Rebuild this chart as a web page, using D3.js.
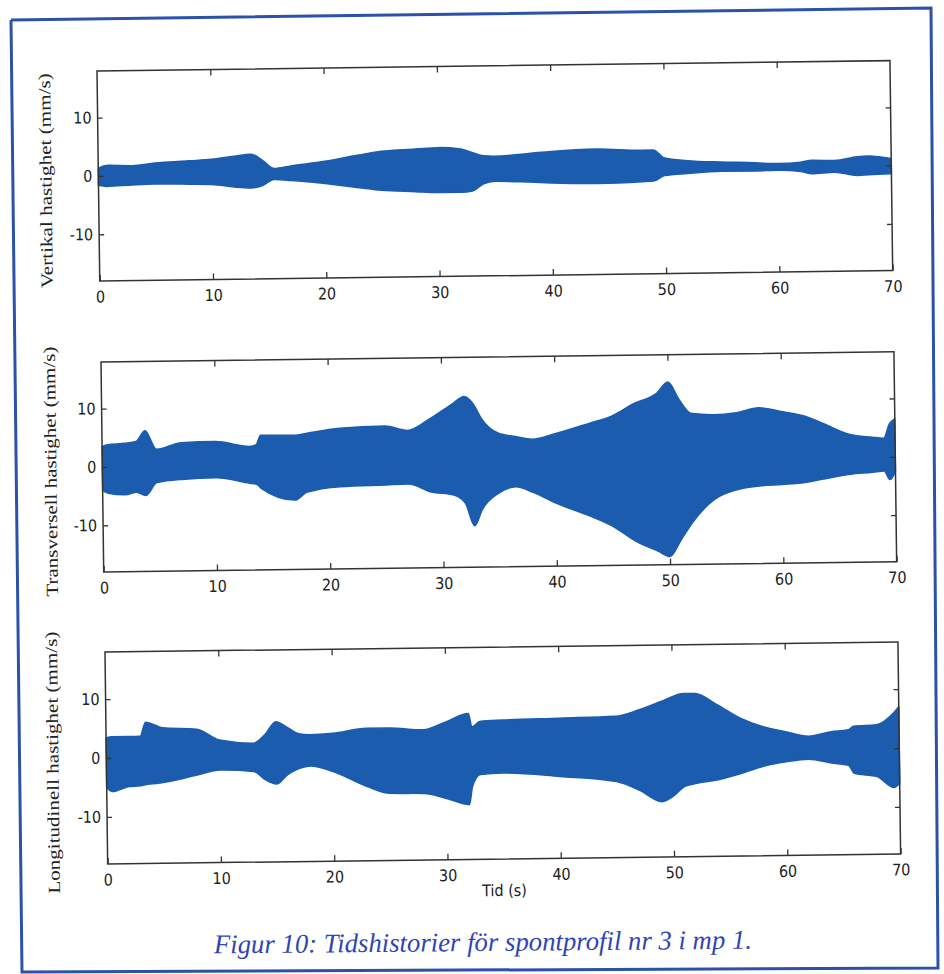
<!DOCTYPE html>
<html>
<head>
<meta charset="utf-8">
<script src="https://cdn.jsdelivr.net/npm/d3@7"></script>
<style>
  body { margin: 0; background: #fff; }
</style>
</head>
<body>
<script>
// envelope of each velocity record (mm/s)
const tVert = [0, 0.7, 3, 5, 8, 10, 12, 13.5, 14.5, 15.5, 17, 20, 23, 25, 28, 30, 32, 33, 34, 35, 38, 40, 44, 48, 49, 50, 52, 55, 58, 60, 62, 63, 65, 67, 68, 70];
const vertUpper = [1.3, 1.8, 1.7, 2.1, 2.4, 2.6, 3.1, 3.4, 2.3, 0.9, 1.3, 2.0, 3.0, 3.6, 3.9, 4.1, 3.8, 3.2, 2.6, 2.5, 2.9, 3.2, 3.5, 3.2, 3.2, 1.8, 1.3, 1.0, 0.8, 0.6, 0.8, 1.1, 1.0, 1.6, 1.7, 1.2];
const vertLower = [-1.6, -1.8, -1.6, -1.5, -1.6, -1.7, -2.2, -2.4, -2.0, -1.0, -1.2, -1.8, -2.6, -3.1, -3.4, -3.6, -3.6, -3.4, -2.2, -1.8, -2.0, -2.2, -2.4, -2.2, -2.1, -1.2, -0.9, -0.6, -0.6, -0.55, -0.8, -1.2, -1.0, -1.6, -1.5, -1.4];

const tTrans = [0, 0.5, 2, 3, 3.8, 4.8, 7, 10, 13, 13.6, 14, 17, 18, 21, 25, 27, 29, 31, 32, 32.8, 33.5, 35, 36.5, 38, 40, 43, 45, 47, 49, 50, 51, 52, 54, 56, 58, 60, 62, 63.5, 66, 68, 69, 69.5, 70];
const transUpper = [3.5, 3.8, 4.0, 4.3, 6.1, 2.9, 4.0, 4.1, 3.2, 3.5, 5.1, 5.0, 5.3, 6.1, 6.4, 5.6, 7.6, 10.1, 11.3, 10.0, 7.5, 4.9, 4.3, 3.8, 4.7, 6.4, 7.6, 9.7, 11.4, 13.3, 10.2, 7.9, 7.6, 7.9, 8.7, 8.0, 7.2, 6.0, 3.9, 3.4, 3.2, 5.6, 6.5];
const transLower = [-4.0, -4.5, -4.8, -4.4, -5.0, -2.8, -2.3, -2.1, -3.1, -3.3, -4.0, -6.1, -4.8, -3.9, -3.7, -3.6, -5.0, -5.6, -7.0, -10.9, -8.1, -5.3, -4.3, -5.3, -7.2, -9.5, -11.3, -13.9, -15.7, -16.6, -13.8, -10.9, -6.9, -5.3, -4.7, -4.5, -4.2, -3.7, -2.9, -2.6, -2.4, -3.9, -2.5];

const tLong = [0, 0.5, 2, 3, 3.5, 5, 8, 10, 13, 14, 15, 16, 17, 18, 20, 23, 25, 28, 30, 32, 32.3, 33, 35, 40, 45, 47, 49, 50, 51, 52, 54, 56, 58, 60, 62, 64, 65.5, 66, 68, 69.5, 70];
const longUpper = [3.4, 3.6, 3.6, 3.6, 6.0, 5.0, 4.7, 2.8, 2.2, 3.6, 5.8, 4.8, 3.7, 3.5, 3.7, 4.5, 4.5, 4.1, 5.4, 6.8, 4.5, 5.4, 5.6, 5.8, 6.0, 7.0, 8.4, 9.2, 9.7, 9.7, 7.7, 5.4, 3.9, 3.0, 2.2, 2.9, 3.2, 3.8, 4.0, 5.9, 7.0];
const longLower = [-5.0, -5.7, -4.9, -4.8, -4.6, -4.3, -3.1, -2.3, -2.6, -4.0, -4.8, -3.2, -2.2, -1.8, -2.8, -5.4, -6.6, -6.7, -7.6, -8.7, -5.6, -3.6, -3.4, -4.1, -5.1, -6.6, -8.6, -7.7, -6.1, -5.6, -5.0, -4.0, -2.8, -2.1, -1.7, -2.4, -2.8, -4.2, -4.8, -6.7, -6.0];

const xTicks = [0, 10, 20, 30, 40, 50, 60, 70];
const yTicks = [-10, 0, 10];
const yLabels = ["Vertikal hastighet (mm/s)", "Transversell hastighet (mm/s)", "Longitudinell hastighet (mm/s)"];
const xLabel = "Tid (s)";
const caption = "Figur 10: Tidshistorier för spontprofil nr 3 i mp 1.";

const width = 944;
const height = 974;
const fill = "#1b5cae";
const tickFont = "'DejaVu Sans', sans-serif";
const labelFont = "'Liberation Serif', serif";

// the scan is slightly tilted, so each panel carries its own small rotation
const panels = [
  { t: tVert, up: vertUpper, lo: vertLower, left: 97, top: 71, w: 793, h: 210, angle: -0.75, labX: -47, labLen: 215 },
  { t: tTrans, up: transUpper, lo: transLower, left: 101, top: 362, w: 793, h: 210, angle: -0.74, labX: -46, labLen: 250 },
  { t: tLong, up: longUpper, lo: longLower, left: 105, top: 652, w: 793, h: 212, angle: -0.72, labX: -48, labLen: 262 }
];

const svg = d3.select("body").append("svg")
    .attr("width", width)
    .attr("height", height)
    .attr("viewBox", [0, 0, width, height]);

svg.append("rect").attr("width", width).attr("height", height).attr("fill", "#fff");

// blue page frame
svg.append("path")
    .attr("d", d3.line()([[11, 20], [931, 8], [938, 968], [22, 972], [11, 20]]))
    .attr("fill", "none")
    .attr("stroke", "#2b52a8")
    .attr("stroke-width", 3);

panels.forEach((p, i) => {
  const g = svg.append("g")
      .attr("transform", `translate(${p.left},${p.top}) rotate(${p.angle})`);

  const x = d3.scaleLinear([0, 70], [0, p.w]);
  const y = d3.scaleLinear([-18, 18], [p.h, 0]);

  const rows = p.t.map((t, k) => ({ t, up: p.up[k], lo: p.lo[k] }));

  g.append("path")
      .datum(rows)
      .attr("fill", fill)
      .attr("stroke", fill)
      .attr("stroke-width", 1.5)
      .attr("stroke-linejoin", "round")
      .attr("d", d3.area().curve(d3.curveMonotoneX).x(d => x(d.t)).y0(d => y(d.lo)).y1(d => y(d.up)));

  // ticks point inwards, as in the original
  g.append("g")
      .attr("transform", `translate(0,${p.h})`)
      .call(d3.axisBottom(x).tickValues(xTicks).tickSizeInner(-6).tickSizeOuter(0).tickPadding(10).tickFormat(d3.format("d")));
  g.append("g")
      .call(d3.axisTop(x).tickValues(xTicks.slice(1, -1)).tickSizeInner(-6).tickSizeOuter(0).tickFormat(""));
  g.append("g")
      .call(d3.axisLeft(y).tickValues(yTicks).tickSizeInner(-5).tickSizeOuter(0).tickPadding(6).tickFormat(d => String(d)));
  g.append("g")
      .attr("transform", `translate(${p.w},0)`)
      .call(d3.axisRight(y).tickValues(yTicks).tickSizeInner(-5).tickSizeOuter(0).tickFormat(""));

  g.selectAll(".domain").remove();
  g.selectAll(".tick line").attr("stroke", "#333").attr("stroke-width", 1.3);
  g.selectAll(".tick text")
      .attr("fill", "#222")
      .style("font-family", tickFont)
      .style("font-stretch", "condensed")
      .style("font-size", "16px");

  g.append("rect")
      .attr("width", p.w)
      .attr("height", p.h)
      .attr("fill", "none")
      .attr("stroke", "#333")
      .attr("stroke-width", 1.5);

  g.append("text")
      .attr("transform", `translate(${p.labX},${p.h / 2 + 4}) rotate(-90)`)
      .attr("text-anchor", "middle")
      .attr("fill", "#222")
      .attr("textLength", p.labLen)
      .attr("lengthAdjust", "spacingAndGlyphs")
      .style("font-family", labelFont)
      .style("font-size", "17px")
      .text(yLabels[i]);

  if (i === panels.length - 1) {
    g.append("text")
        .attr("x", p.w / 2)
        .attr("y", p.h + 37)
        .attr("text-anchor", "middle")
        .attr("fill", "#222")
        .style("font-family", tickFont)
        .style("font-stretch", "condensed")
        .style("font-size", "16px")
        .text(xLabel);
  }
});

svg.append("text")
    .attr("transform", "translate(483,951) rotate(-0.5)")
    .attr("text-anchor", "middle")
    .attr("fill", "#2f45b5")
    .attr("textLength", 538)
    .attr("lengthAdjust", "spacingAndGlyphs")
    .style("font-family", "'Liberation Serif', serif")
    .style("font-style", "italic")
    .style("font-size", "27px")
    .text(caption);
</script>
</body>
</html>
